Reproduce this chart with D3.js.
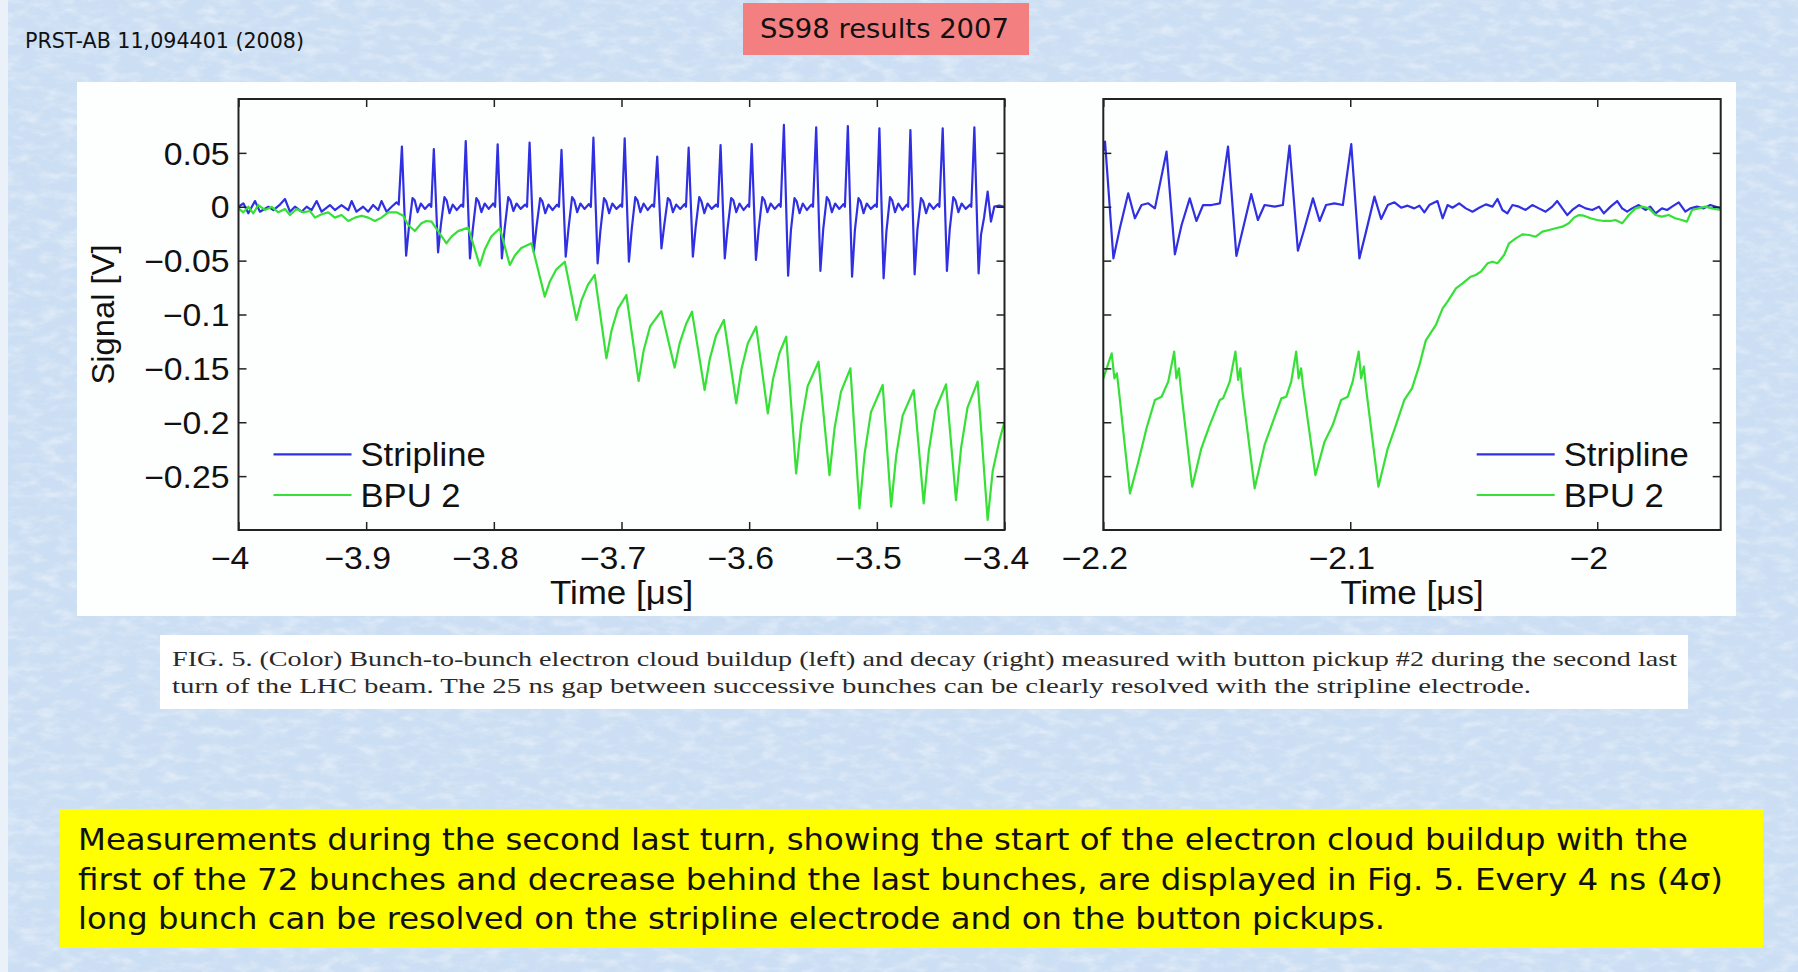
<!DOCTYPE html>
<html>
<head>
<meta charset="utf-8">
<script src="https://cdn.jsdelivr.net/npm/d3@7"></script>
<style>
  body { margin: 0; background: #cddff3; }
  svg { display: block; }
</style>
</head>
<body>
<div id="viz"></div>
<script>
// values: [time in ns, signal in mV]
var leftStripline = [
  [-4000,0],[-3996.2,3.2],[-3992.3,-6.1],[-3987.1,5.3],[-3983.2,-4.6],[-3976.6,0],[-3972.7,-3.1],[-3968,1.5],
  [-3963.6,7.2],[-3959.7,-4.6],[-3955.8,0],[-3950.6,-4.6],[-3946.6,0],[-3942.7,-3.1],[-3938.8,5.3],[-3934.9,-4.6],
  [-3928.4,1.6],[-3924.5,-3.1],[-3919.3,1.6],[-3914,-3.1],[-3911.4,5.3],[-3907.6,-4.6],[-3902.4,0],[-3898.4,-4.6],
  [-3894.5,1.6],[-3890.6,-3.1],[-3888,5.3],[-3884,-4.6],[-3880.1,0],[-3876.2,4.1],[-3874.5,2],
  [-3872,55.8],[-3868.7,-45.4],[-3866.5,-19],[-3863.7,8],[-3862,6],[-3859.7,-5],[-3857.2,3],[-3854,-2],[-3850.5,2.5],[-3849,0],
  [-3847,53.6],[-3843.7,-42.3],[-3841.5,-17],[-3838.7,9],[-3837,6],[-3834.7,-6],[-3832.2,2],[-3829,-3],[-3825.5,2],[-3824,0],
  [-3822,61],[-3818.7,-47.9],[-3816.5,-21],[-3813.7,8],[-3812,5],[-3809.7,-5],[-3807.2,3],[-3804,-2],[-3800.5,3],[-3799,0],
  [-3797,57.9],[-3793.7,-47.9],[-3791.5,-20],[-3788.7,9],[-3787,6],[-3784.7,-4],[-3782.2,3],[-3779,-2],[-3775.5,2],[-3774,0],
  [-3772,59.5],[-3768.7,-41.7],[-3766.5,-18],[-3763.7,8],[-3762,5],[-3759.7,-6],[-3757.2,2],[-3754,-3],[-3750.5,2],[-3749,0],
  [-3747,52.7],[-3743.7,-46.3],[-3741.5,-20],[-3738.7,9],[-3737,6],[-3734.7,-5],[-3732.2,3],[-3729,-2],[-3725.5,2.5],[-3724,0],
  [-3722,64.1],[-3718.7,-52.5],[-3716.5,-22],[-3713.7,8],[-3712,5],[-3709.7,-6],[-3707.2,3],[-3704,-2],[-3700.5,2],[-3699.5,0],
  [-3697.5,63.5],[-3694.2,-51],[-3692,-21],[-3689.2,9],[-3687.5,6],[-3685.2,-5],[-3682.7,3],[-3679.5,-3],[-3676,2],[-3674.5,0],
  [-3672,46.5],[-3668.7,-38.6],[-3666.5,-17],[-3663.7,8],[-3662,6],[-3659.7,-5],[-3657.2,2],[-3654,-2],[-3650.5,2.5],[-3649.5,0],
  [-3647.4,54.8],[-3644.1,-46.3],[-3641.9,-19],[-3639.1,9],[-3637.4,5],[-3635.1,-6],[-3632.6,3],[-3629.4,-2],[-3625.9,2],[-3624.5,0],
  [-3622.4,57.3],[-3619.1,-47.9],[-3616.9,-20],[-3614.1,8],[-3612.4,6],[-3610.1,-5],[-3607.6,3],[-3604.4,-3],[-3600.9,2],[-3600,0],
  [-3598,58.2],[-3594.7,-49.4],[-3592.5,-20],[-3589.7,9],[-3588,6],[-3585.7,-5],[-3583.2,3],[-3580,-2],[-3576.5,2.5],[-3575.3,0],
  [-3572.8,75.9],[-3569.5,-64],[-3567.3,-22],[-3564.5,8],[-3562.8,5],[-3560.5,-6],[-3558,3],[-3554.8,-3],[-3551.3,2],[-3550,0],
  [-3547.5,73.7],[-3544.2,-59.6],[-3542,-21],[-3539.2,9],[-3537.5,6],[-3535.2,-5],[-3532.7,3],[-3529.5,-2],[-3526,2.5],[-3525,0],
  [-3522.7,74.9],[-3519.4,-64.9],[-3517.2,-22],[-3514.4,8],[-3512.7,5],[-3510.4,-6],[-3507.9,3],[-3504.7,-2],[-3501.2,2],[-3500,0],
  [-3498,72.8],[-3494.7,-66.4],[-3492.5,-23],[-3489.7,9],[-3488,6],[-3485.7,-5],[-3483.2,3],[-3480,-3],[-3476.5,2],[-3475.5,0],
  [-3473.7,71.2],[-3470.4,-62.7],[-3468.2,-21],[-3465.4,8],[-3463.7,5],[-3461.4,-6],[-3458.9,3],[-3455.7,-2],[-3452.2,2.5],[-3451,0],
  [-3448.4,72.8],[-3445.1,-59.6],[-3442.9,-21],[-3440.1,9],[-3438.4,6],[-3436.1,-5],[-3433.6,3],[-3430.4,-2],[-3426.9,2],[-3426,0],
  [-3423.6,73.7],[-3420.3,-61.8],[-3418.4,-26],[-3416,-10],[-3413.2,14],[-3410.6,-13.8],[-3408,0.1],[-3404,1],[-3400,0]
];

var leftBpu = [
  [-4000,-1.5],[-3996.2,-5.2],[-3992.3,0.1],[-3988.4,-6.1],[-3984.5,1.6],[-3979.3,-3],[-3974,-0.2],[-3968.8,-5.2],
  [-3963.6,-2.1],[-3959.7,-7.7],[-3954.5,-2.1],[-3949.3,-5.2],[-3944.1,-3.9],[-3940.1,-10.1],[-3934.9,-7],[-3929.7,-5.2],
  [-3924.5,-10.1],[-3919.3,-7.7],[-3914,-13.2],[-3908.8,-10.1],[-3903.6,-8.3],[-3898.4,-10.1],[-3893.2,-13.2],[-3888,-10.1],
  [-3882.7,-5.2],[-3876.2,-5.2],[-3871,-8.3],[-3867.1,-16.9],[-3861.9,-22.5],[-3856.7,-15.4],[-3852.9,-13.2],[-3848.8,-13.8],
  [-3837.1,-33.9],[-3833,-27.5],[-3828,-22.6],[-3820.1,-19.4],
  [-3811,-54.7],[-3807,-39.4],[-3802,-27.6],[-3795.3,-20],
  [-3787.5,-54.1],[-3783.5,-45.2],[-3778.5,-38.3],[-3770.5,-33.9],
  [-3760.1,-83.4],[-3756,-69.1],[-3751,-58.1],[-3744.4,-51],
  [-3735.3,-105.1],[-3731.3,-86.7],[-3726.3,-72.5],[-3721,-63.3],
  [-3711.8,-140.7],[-3707.8,-114.8],[-3702.8,-94.8],[-3696.2,-81.9],
  [-3686.6,-161.7],[-3682.6,-133.1],[-3677.6,-111.1],[-3668.8,-96.8],
  [-3658.4,-149.3],[-3654.4,-126.5],[-3649.4,-108.8],[-3644.8,-97.4],
  [-3634.9,-170.1],[-3630.9,-141.5],[-3625.9,-119.4],[-3619.8,-105.1],
  [-3610.1,-182.4],[-3606.1,-151.1],[-3601.1,-127],[-3594.5,-111.3],
  [-3585.4,-191.7],[-3581.4,-160.4],[-3576.4,-136.2],[-3571,-120.6],
  [-3563.2,-247.4],[-3559.2,-201.8],[-3554.2,-166.6],[-3545.7,-143.8],
  [-3537.1,-249],[-3533.1,-205.4],[-3528.1,-171.8],[-3520.7,-150],
  [-3513.6,-279.9],[-3509.6,-229.5],[-3504.6,-190.6],[-3495.4,-165.4],
  [-3488.8,-278.3],[-3484.8,-230.7],[-3479.8,-193.9],[-3471.1,-170.1],
  [-3463.3,-275.3],[-3459.3,-226.7],[-3454.3,-189.1],[-3445.8,-164.8],
  [-3438,-272.2],[-3434,-223.8],[-3429,-186.5],[-3421,-162.3],
  [-3413.2,-290.7],[-3409.2,-245],[-3404.2,-218],[-3400,-199.5]
];

var rightStripline = [
  [-2200,52],[-2199.3,60.4],[-2195.9,-47.9],[-2193.3,-20],[-2189.9,12.5],[-2187.2,-10.7],[-2184.5,1.6],[-2181.8,3.2],[-2179.1,-1.5],
  [-2174.4,51.1],[-2171,-44.2],[-2168.3,-16.9],[-2165,7.8],[-2162.3,-13.2],[-2159.6,1.6],[-2156.2,1.6],[-2152.8,3.2],
  [-2149.5,55.8],[-2146.1,-45.7],[-2143.4,-20],[-2140.1,11.8],[-2137.4,-12.3],[-2134.7,1.6],[-2130.6,0.1],[-2127.3,1.6],
  [-2124.6,56.7],[-2121.2,-40.8],[-2118.5,-20],[-2115.1,7.8],[-2112.4,-13.2],[-2109.8,1.6],[-2106.4,3.2],[-2103,1.6],
  [-2099.6,58.2],[-2096.3,-47.9],[-2093.6,-23.1],[-2090.2,9.4],[-2087.5,-11.4],[-2084.8,1.6],[-2082.1,4.1],[-2079.4,-0.9],
  [-2076.8,1],[-2074.1,-1.5],[-2072,1],[-2070,-5.2],[-2068,1.6],[-2064.7,5.3],[-2062.6,-10.7],[-2060.6,1.6],[-2058.6,-0.9],
  [-2055.9,3.2],[-2053.2,-1.5],[-2050.5,-4.6],[-2047.8,-0.9],[-2045.1,2.2],[-2042.4,0.1],[-2040.4,7.2],[-2038.4,-3],
  [-2036.4,-6.1],[-2034.3,1.6],[-2031.7,0.1],[-2029,-3],[-2026.3,1.6],[-2023.6,-1.5],[-2020.9,-4.6],[-2018.2,0.1],
  [-2016.2,5.3],[-2014.1,-1.5],[-2012.1,-7.7],[-2010.1,-3],[-2007.4,1.6],[-2004.7,-1.5],[-2002,-3],[-1999.3,0.1],
  [-1997.3,-6.1],[-1994.6,0.1],[-1991.9,5.3],[-1989.9,-1.5],[-1987.9,-4.6],[-1985.9,-1.5],[-1983.2,1.6],[-1980.5,-3],
  [-1978.5,0.1],[-1976.4,-6.1],[-1973.8,-1.5],[-1971.7,-3],[-1969.7,0.1],[-1967,4.1],[-1964.3,-4.6],[-1962.3,-1.5],
  [-1959.6,0.1],[-1956.9,-1.5],[-1954.2,1.6],[-1950,-1.5]
];

var rightBpu = [
  [-2200,-159.2],[-2196.6,-136],[-2195.5,-159.2],[-2194.5,-154.6],[-2193.7,-170.1],[-2189.2,-266],[-2185.8,-236.6],
  [-2182.5,-205.6],[-2179.1,-179.3],[-2176.4,-176.3],[-2173.7,-162.3],[-2171.3,-134.5],[-2170.4,-159.2],[-2169.4,-150],
  [-2168.6,-168.5],[-2164,-259.8],[-2160.3,-224.2],[-2156.9,-202.6],[-2152.8,-179.3],[-2151.5,-177.8],[-2148.8,-162.3],
  [-2146.5,-134.5],[-2145.4,-160.8],[-2144.5,-150],[-2143.8,-168.5],[-2138.7,-261.3],[-2134.7,-221.1],[-2131.3,-199.5],
  [-2127.9,-177.8],[-2125.9,-176.3],[-2123.9,-162.3],[-2121.9,-134.5],[-2120.9,-159.2],[-2119.9,-150],[-2119.2,-165.4],
  [-2114.1,-249],[-2110.4,-218],[-2107.1,-202.6],[-2103.7,-179.3],[-2101,-176.3],[-2099,-162.3],[-2096.6,-134.5],
  [-2095.6,-159.2],[-2094.5,-148.4],[-2093.6,-168.5],[-2088.6,-259.8],[-2084.8,-224.2],[-2081.5,-202.6],[-2078.1,-179.3],
  [-2075,-168.5],[-2072,-147],[-2069.4,-124],[-2065.3,-109.7],[-2062.6,-94.3],[-2060.6,-88.1],[-2057.2,-75.7],
  [-2054.5,-71.1],[-2051.2,-64.9],[-2049.2,-63.3],[-2047.1,-60.2],[-2044.4,-52.5],[-2042.4,-51],[-2040.4,-52.5],
  [-2037.7,-44.8],[-2035.7,-33.9],[-2033,-29.3],[-2030.3,-25.6],[-2027.6,-26.2],[-2024.9,-27.8],[-2022.2,-23.1],
  [-2019.5,-21.6],[-2016.8,-20],[-2014.1,-18.5],[-2011.5,-15.4],[-2009.4,-10.1],[-2007.4,-7.7],[-2005.4,-8.3],
  [-2002.7,-10.7],[-2000,-12.3],[-1997.3,-13.2],[-1994.6,-13.2],[-1992.6,-12.3],[-1989.9,-15.4],[-1987.2,-7.7],
  [-1984.5,-1.5],[-1981.8,0.1],[-1979.1,-1.5],[-1976.4,-7.7],[-1973.8,-9.2],[-1971.1,-7.7],[-1968.4,-10.7],
  [-1965.7,-12.3],[-1963.7,-13.8],[-1961.6,-3],[-1958.9,-1.5],[-1956.2,0.1],[-1953.5,-1.5],[-1950,-3]
];

var yDomain = [-0.3, 0.1];
var yTicks = [-0.25, -0.2, -0.15, -0.1, -0.05, 0, 0.05];
var leftDomain = [-4, -3.4];
var leftTicks = [-4, -3.9, -3.8, -3.7, -3.6, -3.5, -3.4];
var rightDomain = [-2.2, -1.95];
var rightTicks = [-2.2, -2.1, -2];
var seriesNames = ['Stripline', 'BPU 2'];
var seriesColors = ['#3030e2', '#36e036'];

var sourceText = 'PRST-AB 11,094401 (2008)';
var titleText = 'SS98 results 2007';
var captionLines = [
  'FIG. 5. (Color) Bunch-to-bunch electron cloud buildup (left) and decay (right) measured with button pickup #2 during the second last',
  'turn of the LHC beam. The 25 ns gap between successive bunches can be clearly resolved with the stripline electrode.'
];
var noteLines = [
  'Measurements during the second last turn, showing the start of the electron cloud buildup with the',
  'first of the 72 bunches and decrease behind the last bunches, are displayed in Fig. 5. Every 4 ns (4\u03c3)',
  'long bunch can be resolved on the stripline electrode and on the button pickups.'
];

var W = 1798, H = 972;
var plotTop = 99, plotBottom = 530;
var chartFont = '"Liberation Sans", Arial, sans-serif';
var slideFont = '"DejaVu Sans", Verdana, sans-serif';

var svg = d3.select('#viz').append('svg')
  .attr('width', W)
  .attr('height', H);

var defs = svg.append('defs');

// paper-like background texture
var f1 = defs.append('filter').attr('id', 'paperLight')
  .attr('x', 0).attr('y', 0).attr('width', '100%').attr('height', '100%');
f1.append('feTurbulence').attr('type', 'fractalNoise')
  .attr('baseFrequency', '0.05 0.11').attr('numOctaves', 4).attr('seed', 7);
f1.append('feColorMatrix').attr('type', 'matrix')
  .attr('values', '0 0 0 0 1  0 0 0 0 1  0 0 0 0 1  2.2 0 0 0 -0.95');
var f2 = defs.append('filter').attr('id', 'paperDark')
  .attr('x', 0).attr('y', 0).attr('width', '100%').attr('height', '100%');
f2.append('feTurbulence').attr('type', 'fractalNoise')
  .attr('baseFrequency', '0.09 0.03').attr('numOctaves', 3).attr('seed', 21);
f2.append('feColorMatrix').attr('type', 'matrix')
  .attr('values', '0 0 0 0 0.66  0 0 0 0 0.77  0 0 0 0 0.91  2.2 0 0 0 -1.0');

svg.append('rect').attr('width', W).attr('height', H).style('fill', '#cbdef3');
svg.append('rect').attr('width', W).attr('height', H).attr('filter', 'url(#paperDark)').style('opacity', 0.35);
svg.append('rect').attr('width', W).attr('height', H).attr('filter', 'url(#paperLight)').style('opacity', 0.4);
svg.append('rect').attr('width', 8).attr('height', H).style('fill', '#eaf1f9');

function fitText(sel, width) {
  sel.attr('textLength', width).attr('lengthAdjust', 'spacingAndGlyphs');
}
function stretch(sel, k) {
  sel.each(function() {
    var w = this.getComputedTextLength();
    d3.select(this).attr('textLength', w * k).attr('lengthAdjust', 'spacingAndGlyphs');
  });
}

// header
svg.append('text').attr('x', 25).attr('y', 48)
  .style('font-family', slideFont).style('font-size', '21px').style('fill', '#111')
  .text(sourceText).call(fitText, 279);
svg.append('rect').attr('x', 743).attr('y', 3).attr('width', 286).attr('height', 52)
  .style('fill', '#f47f80');
svg.append('text').attr('x', 760).attr('y', 38)
  .style('font-family', slideFont).style('font-size', '27px').style('fill', '#111')
  .text(titleText).call(fitText, 249);

// white figure panel
svg.append('rect').attr('x', 77).attr('y', 82).attr('width', 1659).attr('height', 534)
  .style('fill', '#fdfefe');

var fmt = function(d) {
  if (d === 0) return '0';
  return (d < 0 ? '\u2212' : '') + String(Math.abs(d));
};

function drawPanel(opt) {
  var x = d3.scaleLinear().domain(opt.xDomain).range([opt.x0, opt.x1]);
  var y = d3.scaleLinear().domain(yDomain).range([plotBottom, plotTop]);
  var g = svg.append('g');

  defs.append('clipPath').attr('id', 'clip' + opt.id)
    .append('rect').attr('x', opt.x0).attr('y', plotTop)
    .attr('width', opt.x1 - opt.x0).attr('height', plotBottom - plotTop);

  var line = d3.line()
    .x(function(d) { return x(d[0] / 1000); })
    .y(function(d) { return y(d[1] / 1000); });

  var lines = g.append('g').attr('clip-path', 'url(#clip' + opt.id + ')');
  [opt.strip, opt.bpu].forEach(function(data, i) {
    lines.append('path').datum(data)
      .attr('d', line)
      .style('fill', 'none')
      .style('stroke', seriesColors[i])
      .style('stroke-width', 2.2)
      .style('stroke-linejoin', 'round');
  });

  var bottom = g.append('g').attr('transform', 'translate(0,' + plotBottom + ')')
    .call(d3.axisBottom(x).tickValues(opt.xTicks).tickSize(-8).tickSizeOuter(0)
      .tickPadding(17).tickFormat(fmt));
  var top = g.append('g').attr('transform', 'translate(0,' + plotTop + ')')
    .call(d3.axisTop(x).tickValues(opt.xTicks).tickSize(-8).tickSizeOuter(0).tickFormat(''));
  var left = g.append('g').attr('transform', 'translate(' + opt.x0 + ',0)')
    .call(d3.axisLeft(y).tickValues(yTicks).tickSize(-8).tickSizeOuter(0)
      .tickPadding(9).tickFormat(opt.yLabels ? fmt : ''));
  var right = g.append('g').attr('transform', 'translate(' + opt.x1 + ',0)')
    .call(d3.axisRight(y).tickValues(yTicks).tickSize(-8).tickSizeOuter(0).tickFormat(''));

  [bottom, top, left, right].forEach(function(a) {
    a.select('.domain').remove();
    a.selectAll('line').style('stroke', '#222').style('stroke-width', 1.5);
    a.selectAll('text').style('font-family', chartFont).style('font-size', '31px')
      .style('fill', '#111');
  });
  bottom.selectAll('text').attr('dx', -9).call(stretch, 1.09);
  left.selectAll('text').attr('dy', '0.36em').call(stretch, 1.09);

  g.append('rect')
    .attr('x', opt.x0).attr('y', plotTop)
    .attr('width', opt.x1 - opt.x0).attr('height', plotBottom - plotTop)
    .style('fill', 'none').style('stroke', '#222').style('stroke-width', 2);

  g.append('text')
    .attr('x', (opt.x0 + opt.x1) / 2).attr('y', 604)
    .attr('text-anchor', 'middle')
    .style('font-family', chartFont).style('font-size', '33px').style('fill', '#111')
    .text('Time [\u03bcs]').call(stretch, 1.06);

  // legend
  var legendY = [454.3, 495];
  seriesNames.forEach(function(name, i) {
    g.append('line')
      .attr('x1', opt.legendX).attr('x2', opt.legendX + 78)
      .attr('y1', legendY[i]).attr('y2', legendY[i])
      .style('stroke', seriesColors[i]).style('stroke-width', 2.2);
    g.append('text')
      .attr('x', opt.legendX + 87).attr('y', legendY[i] + 11.8)
      .style('font-family', chartFont).style('font-size', '33px').style('fill', '#111')
      .text(name).call(stretch, 1.05);
  });
}

drawPanel({ id: 'L', x0: 238.5, x1: 1004.5, xDomain: leftDomain, xTicks: leftTicks,
  strip: leftStripline, bpu: leftBpu, yLabels: true, legendX: 273.5 });
drawPanel({ id: 'R', x0: 1103.3, x1: 1720.7, xDomain: rightDomain, xTicks: rightTicks,
  strip: rightStripline, bpu: rightBpu, yLabels: false, legendX: 1476.7 });

svg.append('text')
  .attr('transform', 'translate(114,314.5) rotate(-90)')
  .attr('text-anchor', 'middle')
  .style('font-family', chartFont).style('font-size', '31px').style('fill', '#111')
  .text('Signal [V]').call(fitText, 140);

// caption
svg.append('rect').attr('x', 160).attr('y', 635).attr('width', 1528).attr('height', 74)
  .style('fill', '#ffffff');
var capWidths = [1505, 1359];
captionLines.forEach(function(t, i) {
  svg.append('text').attr('x', 172).attr('y', 666 + i * 27)
    .style('font-family', '"Liberation Serif", "Times New Roman", serif')
    .style('font-size', '22px').style('fill', '#2a2a2a')
    .text(t).call(fitText, capWidths[i]);
});

// yellow note
svg.append('rect').attr('x', 60).attr('y', 809).attr('width', 1703).attr('height', 139)
  .style('fill', '#ffff00');
var noteWidths = [1610, 1645, 1307];
var noteY = [849.5, 890, 929];
noteLines.forEach(function(t, i) {
  svg.append('text').attr('x', 78).attr('y', noteY[i])
    .style('font-family', slideFont).style('font-size', '30px').style('fill', '#111')
    .text(t).call(fitText, noteWidths[i]);
});
</script>
</body>
</html>
